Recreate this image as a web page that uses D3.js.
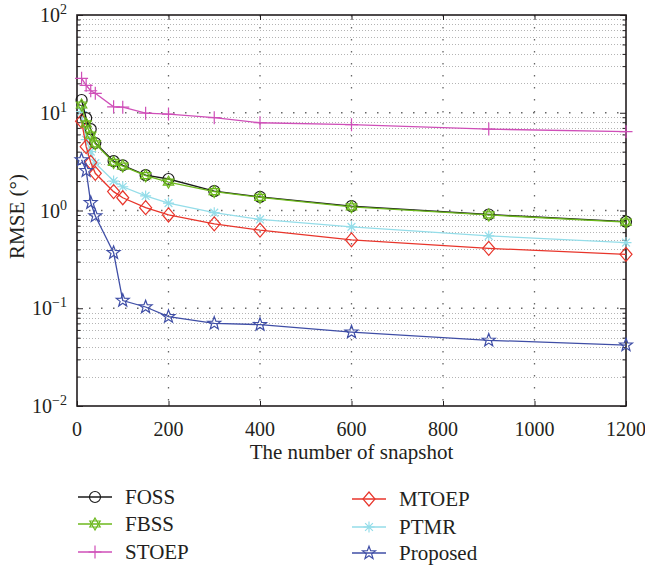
<!DOCTYPE html>
<html>
<head>
<meta charset="utf-8">
<script src="https://cdn.jsdelivr.net/npm/d3@7"></script>
<style>
  html, body { margin: 0; padding: 0; background: #fff; }
</style>
</head>
<body>
<svg id="chart" width="645" height="569" font-family="'Liberation Serif', 'DejaVu Serif', serif"></svg>
<script>
// ---- data ----
const snapshots = [10, 20, 30, 40, 80, 100, 150, 200, 300, 400, 600, 900, 1200];
const seriesNames = ["FOSS", "FBSS", "STOEP", "MTOEP", "PTMR", "Proposed"];
const foss     = [13.5, 8.8, 6.8, 4.9, 3.2, 2.9, 2.3, 2.1, 1.58, 1.38, 1.11, 0.91, 0.77];
const fbss     = [12.0, 7.7, 5.9, 4.8, 3.1, 2.85, 2.27, 1.95, 1.56, 1.36, 1.09, 0.90, 0.76];
const stoep    = [22.5, 19.1, 16.8, 15.8, 11.5, 11.4, 9.9, 9.7, 8.9, 7.9, 7.55, 6.8, 6.4];
const mtoep    = [8.2, 4.5, 3.1, 2.4, 1.56, 1.35, 1.07, 0.90, 0.73, 0.63, 0.50, 0.41, 0.356];
const ptmr     = [10.3, 5.3, 4.0, 3.05, 2.0, 1.75, 1.41, 1.19, 0.95, 0.81, 0.68, 0.55, 0.47];
const proposed = [3.3, 2.55, 1.2, 0.88, 0.37, 0.12, 0.103, 0.082, 0.070, 0.068, 0.057, 0.047, 0.042];
const xTicks = [0, 200, 400, 600, 800, 1000, 1200];
const yExponents = [-2, -1, 0, 1, 2];
const xTitle = "The number of snapshot";
const yTitle = "RMSE (°)";

// ---- styling ----
const FONT = "'Liberation Serif', 'DejaVu Serif', serif";
const TXT = "#231f20";
const colors = {
  FOSS: "#1a1a1a", FBSS: "#6cb81c", STOEP: "#cf4fb8",
  MTOEP: "#e8352b", PTMR: "#94dde9", Proposed: "#3f4ea6"
};
const seriesData = { FOSS: foss, FBSS: fbss, STOEP: stoep, MTOEP: mtoep, PTMR: ptmr, Proposed: proposed };

const svg = d3.select("#chart");
const L = 77, R = 626, T = 15, B = 406;

const x = d3.scaleLinear().domain([0, 1200]).range([L, R]);
const y = d3.scaleLog().domain([0.01, 100]).range([B, T]);

const majors = yExponents.map(e => Math.pow(10, e));
const minors = [];
for (let e = -2; e < 2; e++) for (let k = 2; k <= 9; k++) minors.push(k * Math.pow(10, e));

// grid
const grid = svg.append("g");
grid.selectAll("line.minor").data(minors).join("line")
  .attr("x1", L).attr("x2", R).attr("y1", d => Math.round(y(d)) + 0.5).attr("y2", d => Math.round(y(d)) + 0.5)
  .attr("stroke", "#b4b4b4").attr("stroke-width", 1).attr("stroke-dasharray", "1,2");
grid.selectAll("line.major").data(majors.slice(1, -1)).join("line")
  .attr("x1", L).attr("x2", R).attr("y1", d => y(d)).attr("y2", d => y(d))
  .attr("stroke", "#666").attr("stroke-width", 1.3).attr("stroke-dasharray", "1.5,10.5");
grid.selectAll("line.vx").data(xTicks.slice(1, -1)).join("line")
  .attr("x1", d => x(d)).attr("x2", d => x(d)).attr("y1", T).attr("y2", B)
  .attr("stroke", "#666").attr("stroke-width", 1.3).attr("stroke-dasharray", "1.5,10.5");

// axes
function styleAxis(g) {
  g.select(".domain").remove();
  g.selectAll(".tick line").attr("stroke", TXT).attr("stroke-width", 1);
  g.selectAll(".tick text").remove();
}
svg.append("g").attr("transform", `translate(${L},0)`)
  .call(d3.axisLeft(y).tickValues(majors).tickSize(-6)).call(styleAxis);
svg.append("g").attr("transform", `translate(${L},0)`)
  .call(d3.axisLeft(y).tickValues(minors).tickSize(-3.5)).call(styleAxis);
svg.append("g").attr("transform", `translate(${R},0)`)
  .call(d3.axisRight(y).tickValues(majors).tickSize(-6)).call(styleAxis);
svg.append("g").attr("transform", `translate(${R},0)`)
  .call(d3.axisRight(y).tickValues(minors).tickSize(-3.5)).call(styleAxis);
svg.append("g").attr("transform", `translate(0,${B})`)
  .call(d3.axisBottom(x).tickValues(xTicks).tickSize(-5)).call(styleAxis);
svg.append("g").attr("transform", `translate(0,${T})`)
  .call(d3.axisTop(x).tickValues(xTicks).tickSize(-5)).call(styleAxis);

svg.append("rect").attr("x", L).attr("y", T).attr("width", R - L).attr("height", B - T)
  .attr("fill", "none").attr("stroke", TXT).attr("stroke-width", 1.6);

// tick labels
svg.selectAll("text.xl").data(xTicks).join("text")
  .attr("font-family", FONT).attr("fill", TXT)
  .attr("x", d => x(d)).attr("y", 436).attr("text-anchor", "middle")
  .attr("font-size", 20).text(d => d);

const yl = svg.selectAll("text.yl").data(yExponents).join("text")
  .attr("font-family", FONT).attr("fill", TXT)
  .attr("x", 67).attr("y", d => y(Math.pow(10, d)) + 7).attr("text-anchor", "end")
  .attr("font-size", 20);
yl.append("tspan").text("10");
yl.append("tspan").attr("dy", -8).attr("font-size", 14)
  .text(d => (d < 0 ? "\u2212" + Math.abs(d) : String(d)));

// titles
svg.append("text").attr("font-family", FONT).attr("fill", TXT)
  .attr("x", (L + R) / 2).attr("y", 459).attr("text-anchor", "middle")
  .attr("font-size", 21).text(xTitle);
svg.append("text").attr("font-family", FONT).attr("fill", TXT)
  .attr("transform", `translate(24,${(T + B) / 2 + 6}) rotate(-90)`)
  .attr("text-anchor", "middle").attr("font-size", 21).text(yTitle);

// markers
function starPath(ro, ri, n) {
  let p = "";
  for (let i = 0; i < 2 * n; i++) {
    const r = i % 2 === 0 ? ro : ri;
    const a = -Math.PI / 2 + i * Math.PI / n;
    p += (i === 0 ? "M" : "L") + (r * Math.cos(a)).toFixed(2) + "," + (r * Math.sin(a)).toFixed(2);
  }
  return p + "Z";
}
function triPath(r, up) {
  let p = "";
  for (let i = 0; i < 3; i++) {
    const a = (up ? -Math.PI / 2 : Math.PI / 2) + i * 2 * Math.PI / 3;
    p += (i === 0 ? "M" : "L") + (r * Math.cos(a)).toFixed(2) + "," + (r * Math.sin(a)).toFixed(2);
  }
  return p + "Z";
}
const markerPaths = {
  FOSS: "M-5.5,0A5.5,5.5 0 1,0 5.5,0A5.5,5.5 0 1,0 -5.5,0Z",
  FBSS: triPath(6, true) + triPath(6, false),
  STOEP: "M-6.5,0L6.5,0M0,-6.5L0,6.5",
  MTOEP: "M0,-7L6,0L0,7L-6,0Z",
  PTMR: "M-5.5,0L5.5,0M0,-5.5L0,5.5M-3.9,-3.9L3.9,3.9M-3.9,3.9L3.9,-3.9",
  Proposed: starPath(6.8, 2.8, 5)
};

const line = d3.line().x(d => x(d[0])).y(d => y(d[1]));
const drawOrder = ["STOEP", "PTMR", "MTOEP", "FOSS", "FBSS", "Proposed"];
drawOrder.forEach(name => {
  const pts = snapshots.map((s, i) => [s, seriesData[name][i]]);
  const g = svg.append("g");
  g.append("path").datum(pts).attr("d", line).attr("fill", "none")
    .attr("stroke", colors[name]).attr("stroke-width", 1.3);
  g.selectAll("path.m").data(pts).join("path")
    .attr("transform", d => `translate(${x(d[0])},${y(d[1])})`)
    .attr("d", markerPaths[name]).attr("fill", "none")
    .attr("stroke", colors[name]).attr("stroke-width", 1.2);
});

// legend
const legendPos = [
  { name: "FOSS", x: 78, y: 497 }, { name: "FBSS", x: 78, y: 524 }, { name: "STOEP", x: 78, y: 552 },
  { name: "MTOEP", x: 352, y: 499 }, { name: "PTMR", x: 352, y: 527 }, { name: "Proposed", x: 352, y: 553 }
];
const lg = svg.selectAll("g.leg").data(legendPos).join("g")
  .attr("transform", d => `translate(${d.x},${d.y})`);
lg.append("line").attr("x1", 0).attr("x2", 34).attr("y1", 0).attr("y2", 0)
  .attr("stroke", d => colors[d.name]).attr("stroke-width", 1.3);
lg.append("path").attr("transform", "translate(17,0)").attr("d", d => markerPaths[d.name])
  .attr("fill", "none").attr("stroke", d => colors[d.name]).attr("stroke-width", 1.2);
lg.append("text").attr("font-family", FONT).attr("fill", TXT)
  .attr("x", 47).attr("y", 7).attr("font-size", 21).text(d => d.name);
</script>
</body>
</html>
